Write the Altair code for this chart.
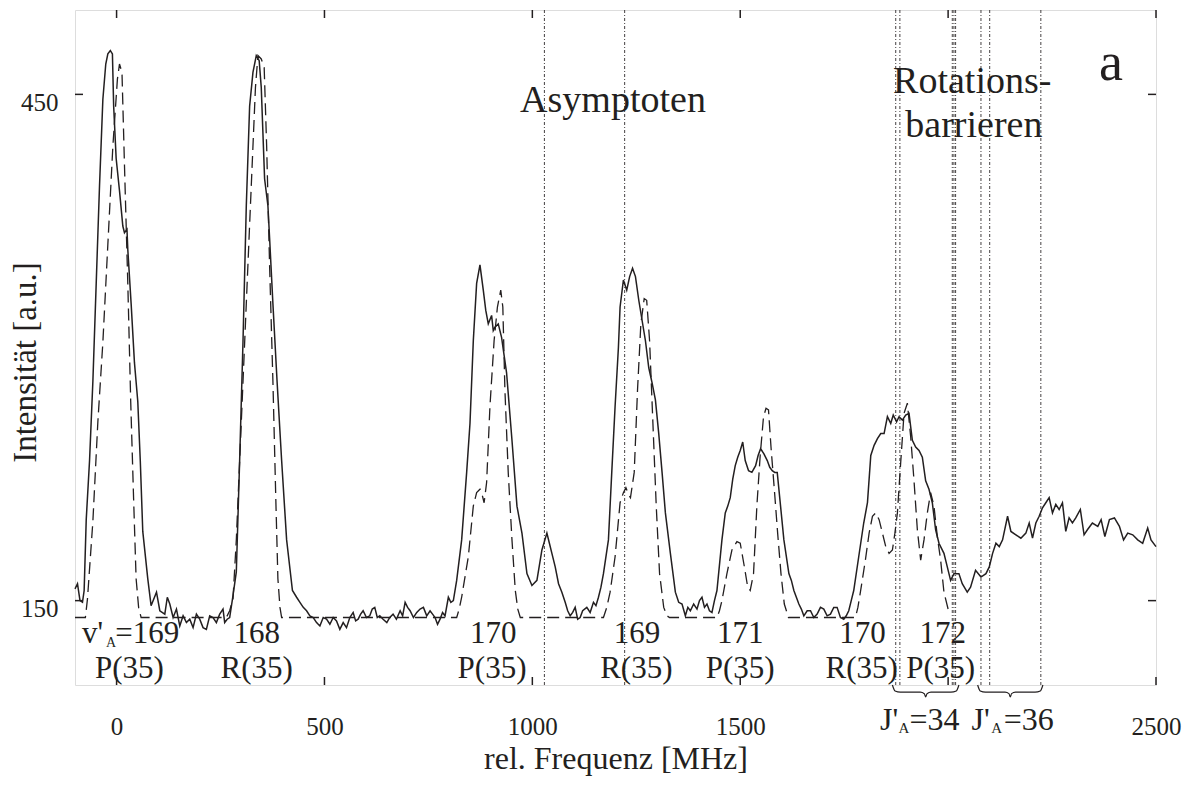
import altair as alt
import pandas as pd

FONT = "Liberation Serif"
INK = "#231f20"

# ---------------- data ----------------
# measured spectrum (solid)
exp_x = [-100, -94, -88, -82, -78, -73, -65, -57, -49, -41, -33, -26, -21, -15, -10, -7, -1, 7, 15, 19,
         25, 27, 35, 43, 51, 57, 63, 75, 83, 96, 104, 116, 122, 128, 136, 144, 152, 160, 168, 176,
         184, 192, 200, 208, 216, 224, 232, 240, 248, 256, 260, 266, 272, 280, 288, 296, 304, 312, 320, 328,
         336, 343, 348, 356, 364, 368, 376, 386, 397, 409, 423, 433, 441, 449, 457, 465, 473, 481, 489, 497,
         505, 513, 521, 529, 537, 545, 553, 561, 569, 575, 581, 587, 593, 601, 609, 615, 621, 627, 633, 641,
         650, 657, 665, 673, 682, 688, 694, 700, 706, 714, 722, 730, 738, 746, 754, 760, 766, 772, 778, 784,
         790, 798, 804, 810, 818, 830, 842, 850, 858, 866, 874, 882, 888, 894, 902, 906, 910, 918, 926, 938,
         951, 963, 975, 987, 999, 1011, 1023, 1035, 1041, 1047, 1055, 1063, 1071, 1079, 1085, 1091, 1097, 1103, 1109, 1115,
         1121, 1131, 1139, 1147, 1153, 1159, 1165, 1171, 1183, 1191, 1199, 1207, 1211, 1219, 1227, 1234, 1241, 1248, 1256, 1264,
         1272, 1280, 1288, 1296, 1304, 1312, 1320, 1332, 1344, 1352, 1360, 1368, 1374, 1380, 1388, 1396, 1402, 1408, 1414, 1420,
         1426, 1432, 1438, 1444, 1456, 1464, 1470, 1476, 1482, 1488, 1494, 1500, 1506, 1512, 1520, 1528, 1537, 1543, 1549, 1557,
         1565, 1571, 1577, 1583, 1589, 1597, 1605, 1617, 1623, 1629, 1635, 1641, 1647, 1653, 1661, 1669, 1677, 1685, 1693, 1701,
         1709, 1717, 1725, 1733, 1741, 1749, 1755, 1761, 1767, 1773, 1785, 1797, 1806, 1814, 1822, 1830, 1838, 1846, 1854, 1862,
         1868, 1876, 1882, 1890, 1898, 1906, 1914, 1922, 1930, 1938, 1946, 1954, 1962, 1970, 1978, 1990, 1998, 2006, 2014, 2026,
         2034, 2046, 2054, 2066, 2079, 2091, 2099, 2107, 2115, 2123, 2131, 2143, 2151, 2163, 2175, 2187, 2195, 2203, 2211, 2219,
         2227, 2235, 2243, 2251, 2259, 2267, 2275, 2283, 2291, 2299, 2307, 2318, 2327, 2335, 2347, 2360, 2368, 2377, 2388, 2400,
         2412, 2422, 2432, 2444, 2456, 2468, 2480, 2488, 2500]
exp_y = [157, 160, 150, 149, 156, 198, 233, 280, 338, 396, 447, 468, 474, 476, 474, 443, 412, 393, 372, 368,
         370, 358, 326, 291, 268, 233, 191, 163, 147, 155, 144, 142, 152, 148, 140, 145, 135, 141, 137, 139,
         134, 142, 139, 134, 133, 141, 140, 137, 142, 145, 137, 139, 140, 153, 167, 233, 303, 384, 443, 463,
         473, 470, 454, 400, 384, 365, 326, 280, 233, 186, 156, 152, 149, 146, 144, 141, 140, 137, 135, 140,
         139, 136, 140, 138, 133, 137, 134, 140, 143, 138, 139, 142, 144, 140, 141, 145, 146, 140, 141, 139,
         137, 140, 142, 139, 144, 141, 149, 146, 144, 140, 143, 145, 146, 141, 144, 142, 140, 136, 139, 143,
         141, 152, 149, 150, 162, 186, 226, 255, 304, 338, 349, 334, 322, 314, 319, 310, 312, 314, 306, 285,
         245, 206, 190, 166, 159, 162, 180, 190, 184, 178, 170, 160, 155, 149, 144, 141, 143, 146, 139, 140,
         144, 146, 143, 149, 147, 152, 158, 166, 186, 226, 265, 300, 324, 340, 334, 342, 347, 342, 328, 316,
         304, 288, 279, 269, 249, 226, 202, 178, 155, 149, 148, 141, 146, 144, 148, 145, 150, 152, 146, 148,
         144, 143, 150, 156, 186, 202, 206, 211, 222, 230, 235, 239, 244, 233, 227, 226, 230, 236, 240, 237,
         233, 229, 227, 226, 226, 206, 186, 166, 162, 156, 152, 148, 145, 141, 144, 144, 140, 142, 146, 145,
         141, 142, 146, 146, 140, 139, 141, 144, 150, 156, 176, 196, 208, 236, 242, 246, 249, 249, 259, 255,
         260, 256, 259, 257, 260, 261, 245, 241, 239, 235, 221, 216, 208, 192, 184, 178, 170, 162, 166, 166,
         160, 155, 158, 168, 164, 166, 170, 178, 184, 182, 186, 200, 191, 189, 187, 190, 196, 187, 196, 200,
         205, 208, 211, 202, 207, 204, 208, 191, 199, 196, 199, 204, 189, 192, 196, 194, 198, 188, 198, 199,
         194, 186, 190, 189, 186, 184, 193, 186, 182]

# simulated spectrum (dashed)
sim_x = [-100, -75, -70, -57, -45, -33, -21, -9, 2, 7, 13, 19, 27, 34, 41, 47, 53, 59,
         264, 272, 280, 288, 300, 312, 324, 334, 340, 348, 355, 361, 368, 376, 383, 388, 393, 397,
         818, 824, 830, 846, 858, 866, 874, 880, 884, 890, 898, 908, 916, 924, 929, 934, 942, 951, 959, 965, 971,
         1171, 1179, 1187, 1199, 1211, 1219, 1225, 1231, 1236, 1245, 1253, 1261, 1269, 1275, 1282, 1290, 1298, 1306, 1316, 1324, 1330,
         1444, 1450, 1456, 1468, 1480, 1492, 1500, 1510, 1518, 1524, 1532, 1540, 1548, 1556, 1562, 1568, 1574, 1582, 1590, 1598, 1606, 1616,
         1777, 1783, 1789, 1801, 1810, 1818, 1826, 1834, 1842, 1850, 1858, 1866, 1872, 1878, 1886, 1894, 1902, 1910, 1918, 1926,
         1934, 1942, 1950, 1958, 1966, 1974, 1982, 1990, 2002]
sim_y = [140, 140, 151, 197, 256, 303, 361, 419, 459, 468, 463, 408, 338, 268, 210, 163, 146, 140,
         140, 144, 151, 186, 256, 326, 396, 454, 473, 471, 466, 419, 349, 280, 210, 163, 146, 140,
         140, 145, 152, 176, 206, 214, 216, 212, 208, 220, 265, 304, 324, 334, 324, 275, 226, 186, 156, 145, 140,
         140, 146, 155, 176, 208, 214, 217, 213, 211, 226, 275, 314, 329, 328, 304, 255, 206, 166, 146, 141, 140,
         140, 144, 150, 166, 180, 185, 184, 170, 158, 156, 166, 206, 236, 259, 264, 263, 241, 216, 190, 166, 148, 140,
         140, 146, 155, 174, 190, 200, 202, 198, 190, 182, 178, 180, 190, 202, 232, 261, 267, 247, 221, 192,
         174, 186, 202, 214, 206, 188, 174, 155, 143]

# asymptote / rotational-barrier markers
marker_x = [1029, 1222, 1874, 1884, 2010, 2014, 2018, 2079, 2100, 2223]

# axes
x_tick_values = [0, 500, 1000, 1500, 2000, 2500]
x_label_values = [0, 500, 1000, 1500, 2500]
y_tick_values = [150, 450]

# peak assignments (upper row: v'_A, lower row: branch)
upper_text = ["v'", "=169", "168", "170", "169", "171", "170", "172"]
upper_x = [-58, 74, 337, 906, 1252, 1500, 1794, 1987]
lower_text = ["P(35)", "R(35)", "P(35)", "R(35)", "P(35)", "R(35)", "P(35)"]
lower_x = [31, 337, 903, 1250, 1500, 1792, 1982]

# J'_A brackets
brace_start = [1866, 2071]
brace_end = [2026, 2228]
j_text = ["J'", "=34", "J'", "=36"]
j_x = [1858, 1967, 2078, 2194]
sub_x_upper = [-13]
sub_x_j = [1894, 2117]

# ---------------- geometry ----------------
X0, X1 = -100, 2500
Y0, Y1 = 100, 500
W, H = 1081, 675
px_x = (X1 - X0) / W   # MHz per pixel
px_y = (Y1 - Y0) / H   # a.u. per pixel
TICK = 8

xs = alt.Scale(domain=[X0, X1], nice=False, zero=False)
ys = alt.Scale(domain=[Y0, Y1], nice=False, zero=False)

exp_df = pd.DataFrame({"f": exp_x, "I": exp_y})
sim_df = pd.DataFrame({"f": sim_x, "I": sim_y})

base_x = alt.X("f:Q", scale=xs,
               axis=alt.Axis(values=x_label_values, format="d", tickSize=0, domain=False, grid=False,
                             labelFont=FONT, labelFontSize=25, labelColor=INK,
                             labelBaseline="alphabetic", labelPadding=49, labelFlush=False,
                             labelOverlap=False,
                             title="rel. Frequenz [MHz]", titleFont=FONT, titleFontSize=32,
                             titleFontWeight="normal", titleColor=INK, titleY=83,
                             titleBaseline="alphabetic"))
base_y = alt.Y("I:Q", scale=ys,
               axis=alt.Axis(values=y_tick_values, format="d", tickSize=0, domain=False, grid=False,
                             labelFont=FONT, labelFontSize=25, labelColor=INK,
                             labelBaseline="alphabetic", labelOffset=16, labelPadding=17,
                             labelFlush=False,
                             title="Intensität [a.u.]", titleFont=FONT, titleFontSize=33,
                             titleFontWeight="normal", titleColor=INK, titleX=-40, titleY=352,
                             titleBaseline="alphabetic", titleAngle=270))

exp_line = alt.Chart(exp_df).mark_line(color=INK, strokeWidth=1.5).encode(x=base_x, y=base_y)
sim_line = alt.Chart(sim_df).mark_line(color=INK, strokeWidth=1.3, strokeDash=[12, 6]).encode(
    x=alt.X("f:Q", scale=xs), y=alt.Y("I:Q", scale=ys))

markers = alt.Chart(pd.DataFrame({"f": marker_x})).mark_rule(
    color=INK, strokeWidth=1, strokeDash=[3, 2, 1, 2], opacity=0.85).encode(
    x=alt.X("f:Q", scale=xs))

# inward ticks
tick_rows = []
for v in x_tick_values:
    tick_rows.append({"f": v, "f2": v, "I": Y0, "I2": Y0 + TICK * px_y})
    tick_rows.append({"f": v, "f2": v, "I": Y1 - TICK * px_y, "I2": Y1})
for v in y_tick_values:
    tick_rows.append({"f": X0, "f2": X0 + TICK * px_x, "I": v, "I2": v})
    tick_rows.append({"f": X1 - TICK * px_x, "f2": X1, "I": v, "I2": v})
ticks = alt.Chart(pd.DataFrame(tick_rows)).mark_rule(color=INK, strokeWidth=1.5).encode(
    x=alt.X("f:Q", scale=xs), x2="f2:Q", y=alt.Y("I:Q", scale=ys), y2="I2:Q")

# braces below the axis
DEPTH = 12 * px_y
shape = [(0.0, 0.0), (0.04, 0.5), (0.12, 0.6), (0.42, 0.6), (0.48, 0.72), (0.5, 1.0),
         (0.52, 0.72), (0.58, 0.6), (0.88, 0.6), (0.96, 0.5), (1.0, 0.0)]
brace_rows = []
for k, (a, b) in enumerate(zip(brace_start, brace_end)):
    for i, (t, d) in enumerate(shape):
        brace_rows.append({"b": k, "o": i, "f": a + t * (b - a), "I": Y0 - d * DEPTH})
braces = alt.Chart(pd.DataFrame(brace_rows)).mark_line(
    color=INK, strokeWidth=1.2, interpolate="monotone", clip=False).encode(
    x=alt.X("f:Q", scale=xs), y=alt.Y("I:Q", scale=ys), detail="b:N", order="o:Q")

def text_layer(xv, tv, yv, size):
    df = pd.DataFrame({"f": xv, "t": tv, "I": [yv] * len(xv)})
    return alt.Chart(df).mark_text(font=FONT, fontSize=size, color=INK, align="center",
                                   baseline="alphabetic").encode(
        x=alt.X("f:Q", scale=xs), y=alt.Y("I:Q", scale=ys), text="t:N")

upper = text_layer(upper_x, upper_text, 124.9, 31)
upper_sub = text_layer(sub_x_upper, ["A"] * len(sub_x_upper), 122.5, 14)
lower = text_layer(lower_x, lower_text, 104.1, 31)
jrow = text_layer(j_x, j_text, 73.3, 32)
jsub = text_layer(sub_x_j, ["A"] * len(sub_x_j), 71.6, 15)

asym = text_layer([1194], ["Asymptoten"], 439.6, 38)
rot1 = text_layer([2058], ["Rotations-"], 450.8, 38)
rot2 = text_layer([2062], ["barrieren"], 424.7, 38)
panel = text_layer([2392], ["a"], 458.5, 54)

chart = alt.layer(
    markers, sim_line, exp_line, ticks, braces,
    upper, upper_sub, lower, jrow, jsub, asym, rot1, rot2, panel
).properties(
    width=W, height=H,
    autosize=alt.AutoSizeParams(type="none"),
    padding={"left": 67, "top": 2, "right": 28, "bottom": 92},
).configure_view(stroke=INK, strokeWidth=1.5).configure(background="white")

chart.save("out.html", embed_options={"renderer": "svg", "actions": False})
